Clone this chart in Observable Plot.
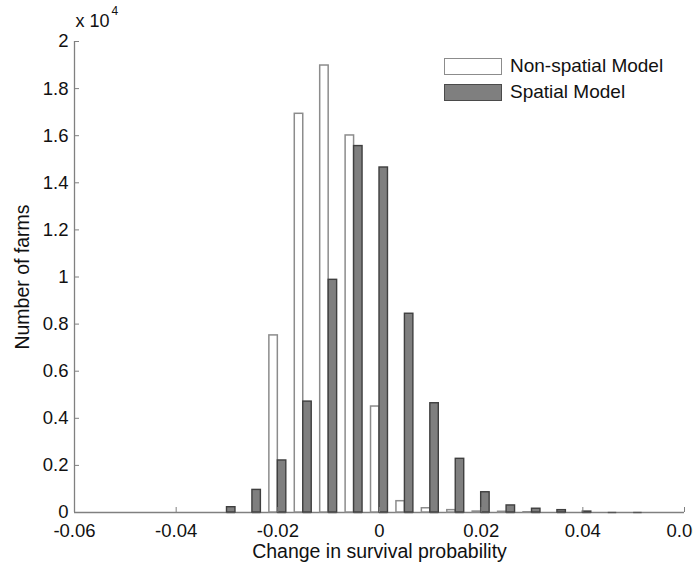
<!DOCTYPE html>
<html>
<head>
<meta charset="utf-8">
<script src="https://cdn.jsdelivr.net/npm/d3@7"></script>
<script src="https://cdn.jsdelivr.net/npm/@observablehq/plot@0.6"></script>
<style>
  html, body { margin: 0; padding: 0; background: #fff; overflow: hidden; }
  #wrap { position: relative; width: 693px; height: 562px; font-family: "Liberation Sans", Arial, Helvetica, sans-serif; }
  .legend { position: absolute; left: 444px; top: 53px; font-size: 19px; color: #111; }
  .legend .row { display: flex; align-items: center; height: 26px; }
  .legend .sw { width: 56px; height: 15px; box-sizing: content-box; margin-right: 8px; }
  .legend .sw.white { background: #fff; border: 1.5px solid #8c8c8c; }
  .legend .sw.gray { background: #7f7f7f; border: 1.5px solid #4a4a4a; }
</style>
</head>
<body>
<div id="wrap"></div>
<script>
// ---- data ----
const binCenters = [-0.03, -0.025, -0.02, -0.015, -0.01, -0.005, 0, 0.005, 0.01, 0.015, 0.02, 0.025, 0.03, 0.035, 0.04, 0.045, 0.05];
const nonSpatialCounts = [0, 0, 7520, 16930, 18980, 16010, 4500, 480, 180, 100, 40, 30, 10, 0, 0, 0, 0];
const spatialCounts = [225, 960, 2210, 4710, 9880, 15560, 14650, 8440, 4640, 2280, 860, 300, 160, 100, 40, 0, 0];
const seriesNames = ["Non-spatial Model", "Spatial Model"];
const xTicks = [-0.06, -0.04, -0.02, 0, 0.02, 0.04, 0.06];
const yTicks = [0, 2000, 4000, 6000, 8000, 10000, 12000, 14000, 16000, 18000, 20000];
const binWidth = 0.005;

const nonRows = binCenters.map((c, i) => ({series: seriesNames[0], x1: c - binWidth / 3, x2: c, y: nonSpatialCounts[i]}));
const spRows = binCenters.map((c, i) => ({series: seriesNames[1], x1: c, x2: c + binWidth / 3, y: spatialCounts[i]}));

const fmtX = d => (d === 0 ? "0" : String(+d.toFixed(2)));
const fmtY = d => String(+(d / 10000).toFixed(1));
const axisColor = "#808080";
const textColor = "#111";

const chart = Plot.plot({
  width: 693,
  height: 562,
  marginLeft: 74,
  marginRight: 9,
  marginTop: 41,
  marginBottom: 50,
  style: {fontFamily: '"Liberation Sans", Arial, Helvetica, sans-serif', fontSize: "18.5px", color: textColor, background: "#fff", overflow: "visible"},
  x: {domain: [-0.06, 0.06]},
  y: {domain: [0, 20000]},
  marks: [
    Plot.ruleY([0], {stroke: axisColor, strokeWidth: 1.3}),
    Plot.ruleX([-0.06], {stroke: axisColor, strokeWidth: 1.3}),
    Plot.rect(nonRows, {x1: "x1", x2: "x2", y1: 0, y2: "y", fill: "#fff", stroke: "#8c8c8c", strokeWidth: 1.5}),
    Plot.rect(spRows, {x1: "x1", x2: "x2", y1: 0, y2: "y", fill: "#7f7f7f", stroke: "#3f3f3f", strokeWidth: 1.4}),
    Plot.ruleY(spRows, {x1: "x1", x2: "x2", y: 0, stroke: "#555", strokeWidth: 1.4}),
    Plot.axisX({ticks: xTicks, tickSize: -5, tickPadding: 16, tickFormat: fmtX, stroke: axisColor, fill: textColor, fontSize: 18.5, label: null}),
    Plot.axisY({ticks: yTicks, tickSize: -5, tickPadding: 11, tickFormat: fmtY, stroke: axisColor, fill: textColor, fontSize: 18.5, label: null}),
    Plot.text(["x 10"], {frameAnchor: "top-left", dx: 1, dy: -20, textAnchor: "start", lineAnchor: "middle", fontSize: 18, fill: textColor}),
    Plot.text(["4"], {frameAnchor: "top-left", dx: 37, dy: -30, textAnchor: "start", lineAnchor: "middle", fontSize: 12, fill: textColor}),
    Plot.text(["Number of farms"], {frameAnchor: "left", dx: -52, rotate: -90, textAnchor: "middle", lineAnchor: "middle", fontSize: 19.5, fill: textColor}),
    Plot.text(["Change in survival probability"], {frameAnchor: "bottom", dy: 39, textAnchor: "middle", lineAnchor: "middle", fontSize: 19.5, fill: textColor})
  ]
});

const wrap = document.getElementById("wrap");
wrap.appendChild(chart);

const legend = document.createElement("div");
legend.className = "legend";
legend.innerHTML = seriesNames.map((name, i) =>
  `<div class="row"><div class="sw ${i === 0 ? "white" : "gray"}"></div><span>${name}</span></div>`).join("");
wrap.appendChild(legend);
</script>
</body>
</html>
